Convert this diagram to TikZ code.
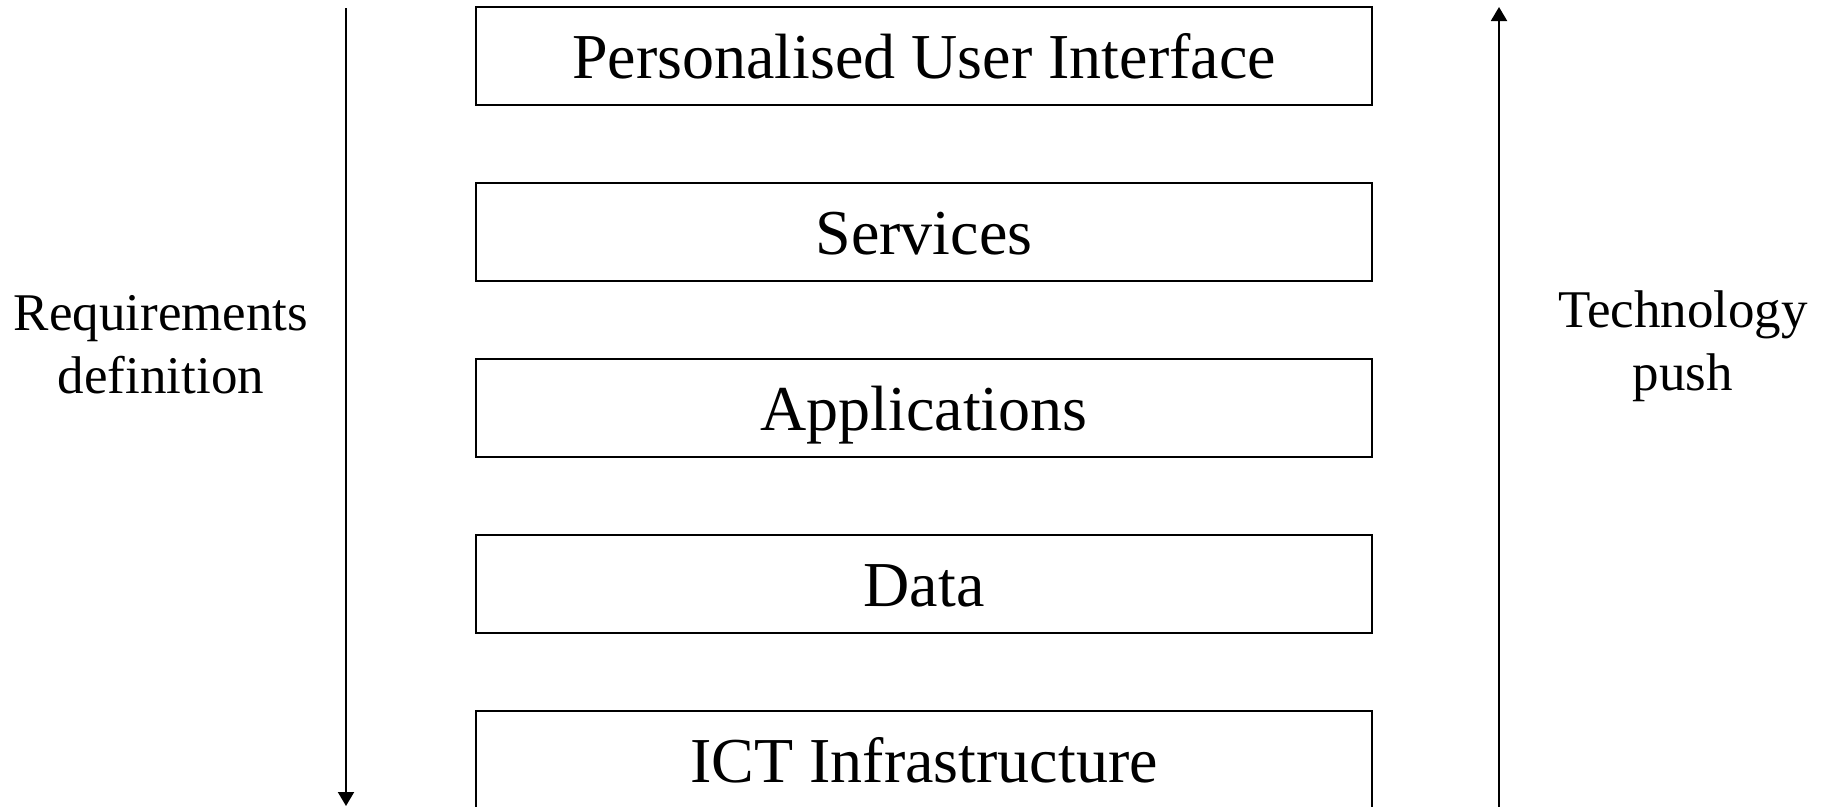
\documentclass[tikz,border=0pt]{standalone}
\usepackage{fontspec}
\setmainfont{Liberation Serif}
\usetikzlibrary{arrows.meta}
\begin{document}
\begin{tikzpicture}[x=1pt,y=-1pt,
  layer/.style={draw=black,line width=2pt,minimum width=896pt,minimum height=98pt,
    inner sep=0pt,text height=44pt,text depth=0pt,anchor=north west,
    font=\fontsize{64}{77}\selectfont},
  sidelabel/.style={align=center,inner sep=0pt,font=\fontsize{53}{63}\selectfont},
  flow/.style={line width=2pt,-{Triangle[width=16pt,length=14pt]}}]
  \useasboundingbox (0,0) rectangle (1827,806);
  \clip (0,0) rectangle (1827,806);
  % stack of layers
  \node[layer] (ui)    at (475,6)   {Personalised User Interface};
  \node[layer] (serv)  at (475,182) {Services};
  \node[layer] (apps)  at (475,358) {Applications};
  \node[layer] (data)  at (475,534) {Data};
  \node[layer] (infra) at (475,710) {ICT Infrastructure};
  % direction arrows
  \coordinate (reqtop) at (346,8);
  \coordinate (reqbot) at (346,806);
  \coordinate (techbot) at (1499,808);
  \coordinate (techtop) at (1499,7);
  \draw[flow] (reqtop) -- (reqbot);
  \draw[flow] (techbot) -- (techtop);
  % side labels
  \node[sidelabel] (req)  at (161,345) {Requirements\\definition};
  \node[sidelabel] (tech) at (1683,346) {Technology\\push};
\end{tikzpicture}
\end{document}
